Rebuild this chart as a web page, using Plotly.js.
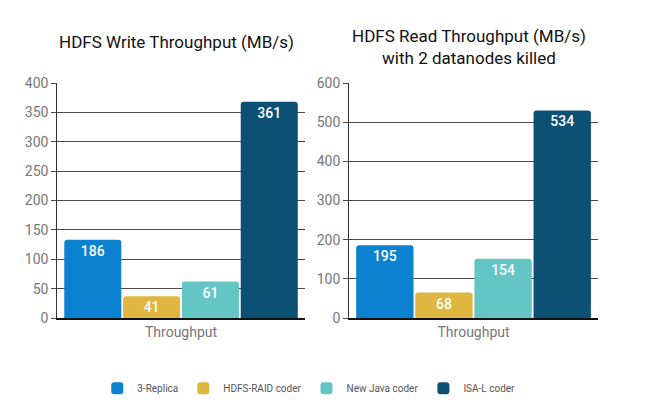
<!DOCTYPE html>
<html><head><meta charset="utf-8">
<script src="https://cdn.plot.ly/plotly-3.0.1.min.js"></script>
<style>html,body{margin:0;padding:0;background:#fff}#c{width:650px;height:413px}</style>
</head><body><div id="c"></div>
<script>
const categories = ["Throughput"];
const seriesNames = ["3-Replica", "HDFS-RAID coder", "New Java coder", "ISA-L coder"];
const seriesColors = ["#0b82cf", "#dfb63f", "#63c6c4", "#0c5073"];
// bar heights as drawn in the picture
const writeHeights = [133, 37, 62, 368];
const readHeights = [186, 65, 151, 530];
// values as printed on the bars
const writeLabels = ["186", "41", "61", "361"];
const readLabels = ["195", "68", "154", "534"];
const writeTicks = [0, 50, 100, 150, 200, 250, 300, 350, 400];
const readTicks = [0, 100, 200, 300, 400, 500, 600];

const FONT = "Roboto, 'Liberation Sans', sans-serif";
const traces = [];
seriesNames.forEach((name, i) => {
  traces.push({type: 'bar', name: name, x: categories, y: [writeHeights[i]], text: [writeLabels[i]],
    xaxis: 'x', yaxis: 'y', marker: {color: seriesColors[i], cornerradius: 3}, legendgroup: name, showlegend: true,
    textposition: 'inside', insidetextanchor: 'end', textangle: 0,
    textfont: {color: '#fff', size: 14, family: FONT, weight: 500}, hoverinfo: 'none', cliponaxis: false});
  traces.push({type: 'bar', name: name, x: categories, y: [readHeights[i]], text: [readLabels[i]],
    xaxis: 'x2', yaxis: 'y2', marker: {color: seriesColors[i], cornerradius: 3}, legendgroup: name, showlegend: false,
    textposition: 'inside', insidetextanchor: 'end', textangle: 0,
    textfont: {color: '#fff', size: 14, family: FONT, weight: 500}, hoverinfo: 'none', cliponaxis: false});
});

const yBase = {showgrid: true, gridcolor: '#4a4a4a', gridwidth: 1, showline: true, linecolor: '#333', linewidth: 1,
  ticks: 'outside', ticklen: 5, tickcolor: '#4a4a4a', tickfont: {size: 14, color: '#777', family: FONT},
  zeroline: false, fixedrange: true};
const xBase = {showline: true, linecolor: '#111', linewidth: 2, ticks: '', tickfont: {size: 14, color: '#777', family: FONT},
  fixedrange: true};

const layout = {
  width: 650, height: 413, margin: {l: 0, r: 0, t: 0, b: 0},
  paper_bgcolor: '#fff', plot_bgcolor: '#fff',
  font: {family: FONT, color: '#222'},
  barmode: 'group', bargap: 0.05, bargroupgap: 0.03,
  xaxis: Object.assign({}, xBase, {domain: [0.088, 0.469], anchor: 'y'}),
  yaxis: Object.assign({}, yBase, {domain: [0.23, 0.799], range: [0, 400], tickvals: writeTicks, anchor: 'x'}),
  xaxis2: Object.assign({}, xBase, {domain: [0.537, 0.92], anchor: 'y2'}),
  yaxis2: Object.assign({}, yBase, {domain: [0.23, 0.799], range: [0, 600], tickvals: readTicks, anchor: 'x2'}),
  showlegend: true,
  legend: {orientation: 'h', x: 0.475, xanchor: 'center', y: 0.06, yanchor: 'middle',
    font: {size: 10, color: '#555', family: FONT}, itemwidth: 30, traceorder: 'normal'},
  annotations: [
    {text: 'HDFS Write Throughput (MB/s)', xref: 'paper', yref: 'paper', x: 0.272, y: 1 - 42/413,
      showarrow: false, xanchor: 'center', yanchor: 'middle', font: {size: 17, color: '#111', family: FONT}},
    {text: 'HDFS Read Throughput (MB/s)<br>with 2 datanodes killed', xref: 'paper', yref: 'paper', x: 0.722, y: 1 - 47/413,
      showarrow: false, xanchor: 'center', yanchor: 'middle', font: {size: 17, color: '#111', family: FONT}}
  ]
};
Plotly.newPlot('c', traces, layout, {displayModeBar: false, staticPlot: true});
</script></body></html>
